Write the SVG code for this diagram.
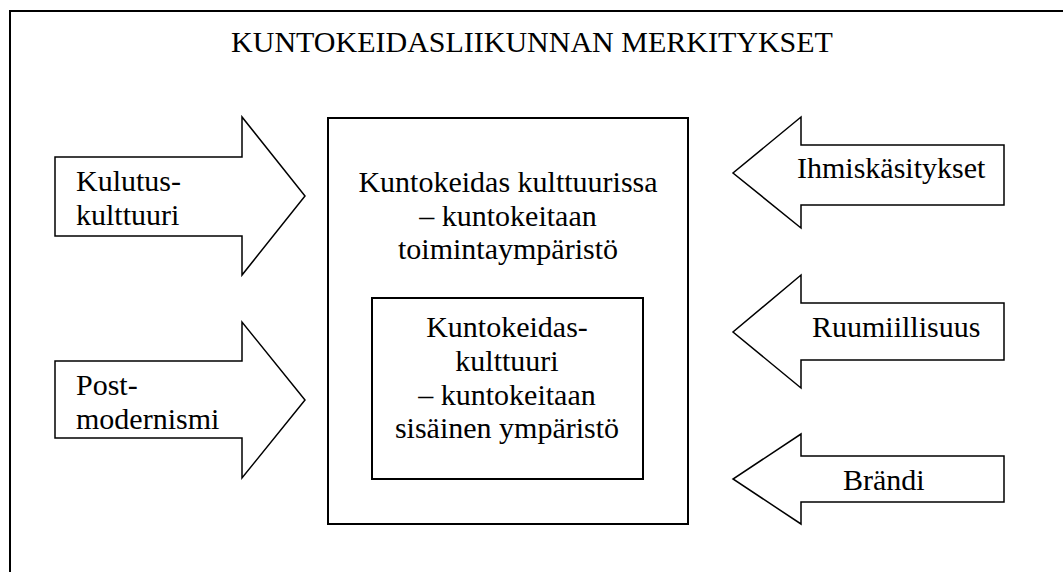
<svg xmlns="http://www.w3.org/2000/svg" width="1063" height="572" viewBox="0 0 1063 572">
<style>
  text { font-family: 'Liberation Serif', 'Times New Roman', Times, serif; font-size: 30px; fill: #000; }
  .c { text-anchor: middle; }
  .box { fill: #fff; stroke: #000; stroke-width: 2; }
  .arrow { fill: #fff; stroke: #000; stroke-width: 1.5; stroke-linejoin: miter; }
</style>
<rect width="1063" height="572" fill="#fff"/>
<g id="frame">
  <path d="M10,600 L10,11 L1070,11" fill="none" stroke="#000" stroke-width="2"/>
  <text class="c" x="532" y="52">KUNTOKEIDASLIIKUNNAN MERKITYKSET</text>
</g>
<g id="outer-box">
  <rect class="box" x="328" y="118" width="360" height="406"/>
  <text class="c" x="508" y="192">Kuntokeidas kulttuurissa</text>
  <text class="c" x="508" y="226">– kuntokeitaan</text>
  <text class="c" x="508" y="259">toimintaympäristö</text>
</g>
<g id="inner-box">
  <rect class="box" x="372" y="298" width="271" height="181"/>
  <text class="c" x="507" y="337">Kuntokeidas-</text>
  <text class="c" x="507" y="371">kulttuuri</text>
  <text class="c" x="507" y="405">– kuntokeitaan</text>
  <text class="c" x="507" y="438">sisäinen ympäristö</text>
</g>
<g id="connectors">
  <g id="arrow-kulutus">
    <polygon class="arrow" points="55,157 242,157 242,117 305,196 242,275 242,236 55,236"/>
    <text x="76" y="191">Kulutus-</text>
    <text x="76" y="225">kulttuuri</text>
  </g>
  <g id="arrow-post">
    <polygon class="arrow" points="55,361 242,361 242,322 305,400 242,478 242,438 55,438"/>
    <text x="76" y="395">Post-</text>
    <text x="76" y="429">modernismi</text>
  </g>
  <g id="arrow-ihmis">
    <polygon class="arrow" points="1004,145 801,145 801,117 733,173 801,228 801,205 1004,205"/>
    <text x="797" y="178">Ihmiskäsitykset</text>
  </g>
  <g id="arrow-ruumiillisuus">
    <polygon class="arrow" points="1004,303 801,303 801,275 733,332 801,388 801,360 1004,360"/>
    <text x="812" y="337">Ruumiillisuus</text>
  </g>
  <g id="arrow-brandi">
    <polygon class="arrow" points="1004,456 801,456 801,434 733,479 801,524 801,502 1004,502"/>
    <text x="843" y="490">Brändi</text>
  </g>
</g>
</svg>
